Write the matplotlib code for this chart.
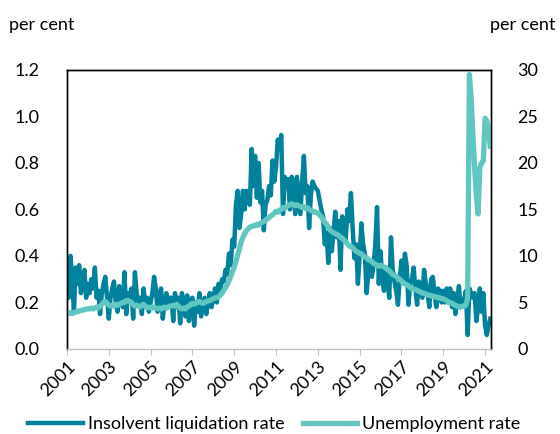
import matplotlib.pyplot as plt
import numpy as np

plt.rcParams['font.family'] = ['Lato', 'DejaVu Sans']

# monthly data, Jan 2001 - Apr 2021
start_year = 2001
tick_years = [2001, 2003, 2005, 2007, 2009, 2011, 2013, 2015, 2017, 2019, 2021]

liquidation_rate = [
    0.24, 0.22, 0.40, 0.30, 0.16, 0.35, 0.28, 0.36, 0.24, 0.30, 0.34, 0.22,  # 2001
    0.28, 0.24, 0.30, 0.26, 0.35, 0.22, 0.25, 0.15, 0.24, 0.28, 0.31, 0.22,  # 2002
    0.13, 0.22, 0.26, 0.29, 0.20, 0.16, 0.27, 0.22, 0.18, 0.33, 0.15, 0.24,  # 2003
    0.22, 0.26, 0.13, 0.33, 0.24, 0.20, 0.22, 0.15, 0.26, 0.18, 0.22, 0.16,  # 2004
    0.20, 0.24, 0.31, 0.26, 0.16, 0.22, 0.26, 0.13, 0.20, 0.24, 0.18, 0.22,  # 2005
    0.22, 0.12, 0.24, 0.18, 0.22, 0.11, 0.24, 0.20, 0.14, 0.23, 0.12, 0.20,  # 2006
    0.22, 0.10, 0.20, 0.16, 0.24, 0.14, 0.18, 0.22, 0.15, 0.20, 0.24, 0.18,  # 2007
    0.22, 0.26, 0.20, 0.28, 0.25, 0.30, 0.29, 0.34, 0.32, 0.41, 0.36, 0.47,  # 2008
    0.44, 0.62, 0.68, 0.52, 0.58, 0.68, 0.60, 0.68, 0.65, 0.62, 0.86, 0.70,  # 2009
    0.83, 0.65, 0.80, 0.63, 0.68, 0.51, 0.62, 0.64, 0.70, 0.66, 0.81, 0.72,  # 2010
    0.78, 0.90, 0.86, 0.92, 0.58, 0.74, 0.70, 0.73, 0.60, 0.74, 0.72, 0.58,  # 2011
    0.74, 0.66, 0.58, 0.72, 0.83, 0.67, 0.70, 0.52, 0.66, 0.72, 0.70, 0.69,  # 2012
    0.68, 0.64, 0.60, 0.57, 0.45, 0.50, 0.37, 0.52, 0.42, 0.50, 0.59, 0.48,  # 2013
    0.55, 0.34, 0.57, 0.50, 0.47, 0.60, 0.55, 0.67, 0.52, 0.39, 0.45, 0.28,  # 2014
    0.40, 0.54, 0.45, 0.41, 0.24, 0.33, 0.38, 0.31, 0.36, 0.45, 0.61, 0.28,  # 2015
    0.42, 0.30, 0.25, 0.35, 0.30, 0.22, 0.48, 0.34, 0.29, 0.25, 0.19, 0.30,  # 2016
    0.38, 0.30, 0.41, 0.36, 0.19, 0.28, 0.30, 0.35, 0.26, 0.19, 0.29, 0.24,  # 2017
    0.22, 0.34, 0.28, 0.24, 0.18, 0.30, 0.31, 0.24, 0.18, 0.26, 0.25, 0.20,  # 2018
    0.25, 0.20, 0.26, 0.22, 0.26, 0.18, 0.24, 0.15, 0.21, 0.27, 0.18, 0.20,  # 2019
    0.21, 0.25, 0.06, 0.26, 0.24, 0.22, 0.24, 0.12, 0.18, 0.26, 0.16, 0.24,  # 2020
    0.10, 0.06, 0.10, 0.13,                                                  # 2021
]

unemployment_rate = [
    3.8, 3.8, 3.9, 3.8, 3.9, 4.0, 4.0, 4.1, 4.1, 4.2, 4.2, 4.3,  # 2001
    4.3, 4.3, 4.4, 4.3, 4.4, 4.5, 4.4, 4.6, 4.8, 5.0, 5.1, 4.9,  # 2002
    4.7, 4.6, 4.7, 4.6, 4.8, 4.7, 4.8, 4.9, 5.0, 5.0, 5.2, 5.2,  # 2003
    5.1, 5.0, 4.8, 4.6, 4.7, 4.6, 4.5, 4.7, 4.8, 4.6, 4.5, 4.4,  # 2004
    4.5, 4.4, 4.5, 4.4, 4.3, 4.4, 4.3, 4.4, 4.5, 4.4, 4.5, 4.6,  # 2005
    4.6, 4.7, 4.6, 4.8, 4.6, 4.4, 4.3, 4.4, 4.3, 4.5, 4.6, 4.8,  # 2006
    4.9, 4.8, 4.9, 5.0, 5.1, 5.0, 4.9, 5.0, 5.1, 5.2, 5.2, 5.3,  # 2007
    5.4, 5.5, 5.5, 5.6, 5.8, 6.0, 6.3, 6.6, 6.9, 7.3, 7.8, 8.3,  # 2008
    8.8, 9.4, 10.1, 10.8, 11.5, 12.0, 12.4, 12.7, 12.9, 13.1, 13.2, 13.2,  # 2009
    13.3, 13.4, 13.3, 13.5, 13.6, 13.7, 13.8, 14.0, 14.1, 14.3, 14.4, 14.6,  # 2010
    14.8, 14.7, 14.9, 15.0, 15.2, 15.1, 15.3, 15.4, 15.5, 15.6, 15.5, 15.4,  # 2011
    15.5, 15.4, 15.3, 15.2, 15.3, 15.1, 15.2, 15.0, 14.9, 14.8, 14.7, 14.7,  # 2012
    14.6, 14.4, 14.2, 13.9, 13.6, 13.4, 13.1, 12.8, 12.6, 12.5, 12.4, 12.3,  # 2013
    12.2, 12.0, 11.9, 11.7, 11.5, 11.3, 11.1, 11.0, 10.9, 10.7, 10.5, 10.4,  # 2014
    10.3, 10.2, 10.0, 9.9, 9.8, 9.6, 9.5, 9.4, 9.2, 9.1, 9.0, 8.9,  # 2015
    9.0, 8.9, 8.8, 8.7, 8.5, 8.4, 8.2, 8.0, 7.9, 7.8, 7.6, 7.5,  # 2016
    7.3, 7.1, 7.0, 6.9, 6.8, 6.6, 6.5, 6.4, 6.4, 6.3, 6.2, 6.1,  # 2017
    6.0, 6.0, 5.9, 5.8, 5.8, 5.7, 5.7, 5.6, 5.6, 5.5, 5.5, 5.4,  # 2018
    5.4, 5.3, 5.2, 5.0, 5.0, 4.9, 4.8, 4.7, 4.6, 4.5, 4.5, 4.6,  # 2019
    4.6, 4.7, 5.5, 29.5, 27.0, 23.0, 19.5, 16.5, 14.5, 19.5, 20.0, 20.2,  # 2020
    24.8, 24.5, 23.5, 21.8,  # 2021
]

label_liq = 'Insolvent liquidation rate'
label_unemp = 'Unemployment rate'

dark = '#00819c'
light = '#5fc6c1'

t = start_year + np.arange(len(liquidation_rate)) / 12.0

fig = plt.figure(figsize=(5.6, 4.34), dpi=100)
ax = fig.add_axes([0.1196, 0.196, 0.7574, 0.643])
ax2 = ax.twinx()

l1, = ax.plot(t, liquidation_rate, color=dark, lw=3.2, solid_joinstyle='round')
l2, = ax2.plot(t, unemployment_rate, color=light, lw=3.8, solid_joinstyle='round')

ax.set_xlim(start_year, t[-1] + 0.04)
ax.set_ylim(0, 1.2)
ax2.set_ylim(0, 30)
ax.set_yticks(np.arange(0, 1.21, 0.2))
ax.set_yticklabels([f'{v:.1f}' for v in np.arange(0, 1.21, 0.2)])
ax2.set_yticks(range(0, 31, 5))

ax.set_xticks(tick_years)
ax.set_xticklabels([str(y) for y in tick_years], rotation=45, ha='right',
                   rotation_mode='anchor')

ax.tick_params(axis='y', length=0, pad=20, labelsize=13)
ax2.tick_params(axis='y', length=0, pad=19, labelsize=13)
ax.tick_params(axis='x', length=4, color='#bfbfbf', pad=3, labelsize=13)

for a in (ax, ax2):
    for s in ('left', 'right', 'top'):
        a.spines[s].set_color('black')
        a.spines[s].set_linewidth(1.0)
    a.spines['bottom'].set_color('#bfbfbf')

fig.text(0.016, 0.942, 'per cent', fontsize=13, va='center', ha='left')
fig.text(0.875, 0.942, 'per cent', fontsize=13, va='center', ha='left')

fig.legend([l1, l2], [label_liq, label_unemp], loc='center', ncol=2,
           bbox_to_anchor=(0.49, 0.022), frameon=False, fontsize=13,
           handlelength=3.0, handletextpad=0.3, columnspacing=1.0,
           borderaxespad=0)

fig.savefig('out.png', dpi=100)
